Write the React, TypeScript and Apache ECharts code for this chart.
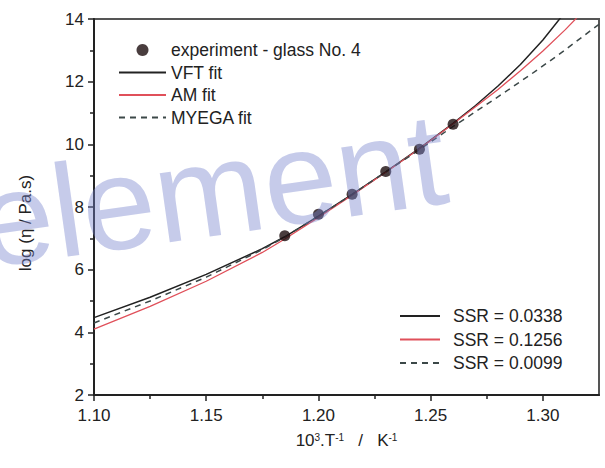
import React, { useEffect, useRef } from "react";
import * as echarts from "echarts";

// Experimental data: 10^3/T (K^-1) vs log(eta / Pa.s)
const expX = [1.185, 1.2, 1.215, 1.23, 1.245, 1.26];
const expY = [7.08, 7.77, 8.41, 9.13, 9.84, 10.64];

// VFT fit (black solid)
const vftX = [1.1, 1.125, 1.15, 1.175, 1.185, 1.2, 1.215, 1.23, 1.245, 1.26, 1.27, 1.28, 1.29, 1.3, 1.31];
const vftY = [4.47, 5.12, 5.85, 6.67, 7.05, 7.71, 8.4, 9.12, 9.87, 10.67, 11.24, 11.86, 12.55, 13.33, 14.23];

// AM fit (red solid)
const amX = [1.1, 1.125, 1.15, 1.175, 1.185, 1.2, 1.215, 1.23, 1.245, 1.26, 1.27, 1.28, 1.29, 1.3, 1.31, 1.32];
const amY = [4.1, 4.83, 5.63, 6.55, 6.98, 7.67, 8.38, 9.11, 9.86, 10.66, 11.2, 11.75, 12.35, 12.98, 13.66, 14.4];

// MYEGA fit (dashed)
const myegaX = [1.1, 1.125, 1.15, 1.175, 1.185, 1.2, 1.215, 1.23, 1.245, 1.26, 1.27, 1.283, 1.295, 1.307, 1.315, 1.325];
const myegaY = [4.3, 5.0, 5.76, 6.64, 7.04, 7.71, 8.4, 9.12, 9.83, 10.57, 11.04, 11.66, 12.25, 12.86, 13.29, 13.83];

const xMajorTicks = [1.1, 1.15, 1.2, 1.25, 1.3];
const xMinorTicks = [1.125, 1.175, 1.225, 1.275];

const seriesNames = ["experiment - glass No. 4", "VFT fit", "AM fit", "MYEGA fit"];
const ssrNames = ["SSR = 0.0338", "SSR = 0.1256", "SSR = 0.0099"];

const FONT = "'Liberation Sans', Arial, sans-serif";
const BLACK = "#222222";
const RED = "#e0505a";
const DASH = "#3c4848";

const zip = (xs: number[], ys: number[]) => xs.map((x, i) => [x, ys[i]]);
const noSymbol = { color: "rgba(0,0,0,0)", borderWidth: 0, opacity: 0 };

export default function App() {
  const ref = useRef<HTMLDivElement>(null);
  useEffect(() => {
    if (!ref.current) return;
    const chart = echarts.init(ref.current, undefined, { renderer: "svg" });
    const lineBase = { type: "line", symbol: "none", showSymbol: false, clip: true, z: 2 };
    const option: any = {
      animation: false,
      backgroundColor: "#ffffff",
      textStyle: { fontFamily: FONT },
      grid: {
        left: 94,
        right: 6,
        top: 19,
        bottom: 73,
        show: true,
        borderColor: "#555555",
        borderWidth: 2,
      },
      xAxis: [
        {
          type: "value",
          min: 1.1,
          max: 1.325,
          interval: 0.05,
          name: "10{sup|3}.T{sup|-1}   /   K{sup|-1}",
          nameLocation: "middle",
          nameGap: 37,
          nameTextStyle: {
            fontSize: 17,
            color: BLACK,
            fontFamily: FONT,
            rich: {
              sup: { fontSize: 10, verticalAlign: "top", color: BLACK, fontFamily: FONT },
            },
          },
          axisLine: { show: true, lineStyle: { color: BLACK, width: 2 } },
          axisTick: { show: true, length: 6, customValues: xMajorTicks, lineStyle: { color: BLACK, width: 1.5 } },
          axisLabel: {
            customValues: xMajorTicks,
            fontSize: 17,
            color: BLACK,
            margin: 12,
            formatter: (v: number) => v.toFixed(2),
          },
          splitLine: { show: false },
        },
        {
          type: "value",
          min: 1.1,
          max: 1.325,
          position: "bottom",
          axisLine: { show: false },
          axisLabel: { show: false },
          splitLine: { show: false },
          axisTick: { show: true, length: 4, customValues: xMinorTicks, lineStyle: { color: BLACK, width: 1.5 } },
        },
      ],
      yAxis: {
        type: "value",
        min: 2,
        max: 14,
        interval: 2,
        axisLine: { show: true, lineStyle: { color: BLACK, width: 2 } },
        axisTick: { show: true, length: 6, lineStyle: { color: BLACK, width: 1.5 } },
        minorTick: { show: true, splitNumber: 2, length: 4, lineStyle: { color: BLACK, width: 1.5 } },
        axisLabel: { fontSize: 17, color: BLACK, margin: 10 },
        splitLine: { show: false },
      },
      legend: [
        {
          orient: "vertical",
          left: 118,
          top: 41,
          padding: 0,
          itemWidth: 47,
          itemHeight: 12,
          itemGap: 4.5,
          data: [
            { name: seriesNames[0] },
            { name: seriesNames[1], itemStyle: noSymbol },
            { name: seriesNames[2], itemStyle: noSymbol },
            { name: seriesNames[3], itemStyle: noSymbol },
          ],
          textStyle: { fontSize: 17.5, color: BLACK, fontFamily: FONT, lineHeight: 16 },
          selectedMode: false,
        },
        {
          orient: "vertical",
          left: 399,
          top: 307,
          padding: 0,
          itemWidth: 40,
          itemHeight: 12,
          itemGap: 5.5,
          data: ssrNames.map((n) => ({ name: n, itemStyle: noSymbol })),
          textStyle: { fontSize: 17.5, color: BLACK, fontFamily: FONT, lineHeight: 16, padding: [0, 0, 0, 8] },
          selectedMode: false,
        },
      ],
      series: [
        {
          name: seriesNames[0],
          type: "scatter",
          data: zip(expX, expY),
          symbol: "circle",
          symbolSize: 11,
          itemStyle: { color: "#1c0c0e" },
          z: 4,
        },
        { ...lineBase, name: seriesNames[1], data: zip(vftX, vftY), lineStyle: { color: BLACK, width: 1.5 }, itemStyle: { color: BLACK } },
        { ...lineBase, name: seriesNames[2], data: zip(amX, amY), lineStyle: { color: RED, width: 1.3 }, itemStyle: { color: RED } },
        { ...lineBase, name: seriesNames[3], data: zip(myegaX, myegaY), lineStyle: { color: DASH, width: 1.5, type: [6, 5] }, itemStyle: { color: DASH } },
        { ...lineBase, name: ssrNames[0], data: [], lineStyle: { color: BLACK, width: 1.5 }, itemStyle: { color: BLACK } },
        { ...lineBase, name: ssrNames[1], data: [], lineStyle: { color: RED, width: 1.3 }, itemStyle: { color: RED } },
        { ...lineBase, name: ssrNames[2], data: [], lineStyle: { color: DASH, width: 1.5, type: [6, 5] }, itemStyle: { color: DASH } },
      ],
      graphic: [
        {
          type: "text",
          x: 25,
          y: 223,
          rotation: Math.PI / 2,
          style: {
            text: "log (η / Pa.s)",
            fontSize: 17,
            fontFamily: FONT,
            fill: BLACK,
            align: "center",
            verticalAlign: "middle",
          },
          z: 10,
        },
        {
          type: "text",
          x: -20,
          y: 223,
          rotation: 0.14,
          silent: true,
          style: {
            text: "element",
            fontSize: 132,
            fontFamily: FONT,
            fill: "rgba(120,130,205,0.42)",
            align: "left",
            verticalAlign: "middle",
          },
          z: 100,
        },
      ],
    };
    chart.setOption(option);
    return () => chart.dispose();
  }, []);
  return <div ref={ref} style={{ position: "absolute", left: 0, top: 0, width: 605, height: 468 }} />;
}
